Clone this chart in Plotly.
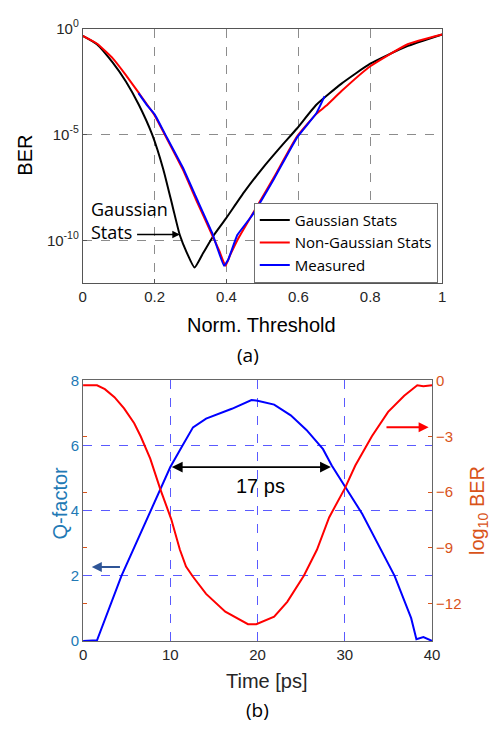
import plotly.graph_objects as go

# ---------------- Panel (a) data: BER vs normalized threshold (log10 BER) ----------------
gauss_x = [0, 0.04, 0.083, 0.12, 0.156, 0.193, 0.224, 0.25, 0.27, 0.29, 0.311, 0.335, 0.365,
           0.397, 0.45, 0.5, 0.55, 0.596, 0.65, 0.72, 0.8, 0.9, 1.0]
gauss_log = [-0.35, -0.75, -1.6, -2.5, -3.6, -5.0, -6.64, -8.4, -9.75, -10.6, -11.28, -10.6, -9.75,
             -9.0, -7.7, -6.6, -5.6, -4.72, -3.6, -2.6, -1.66, -0.85, -0.28]

nong_x = [0, 0.04, 0.083, 0.12, 0.156, 0.2, 0.228, 0.278, 0.315, 0.36, 0.38, 0.397, 0.41, 0.433,
          0.469, 0.487, 0.532, 0.596, 0.65, 0.677, 0.72, 0.8, 0.904, 1.0]
nong_log = [-0.35, -0.72, -1.4, -2.2, -3.04, -4.1, -5.0, -6.64, -8.07, -9.75, -10.5, -11.2, -10.7, -9.9,
            -8.85, -8.33, -7.02, -5.1, -4.03, -3.65, -2.95, -1.78, -0.74, -0.28]

meas_x = [0.155, 0.178, 0.2, 0.228, 0.278, 0.315, 0.36, 0.393, 0.405, 0.43, 0.47, 0.532, 0.596, 0.65, 0.673]
meas_log = [-3.05, -3.6, -4.05, -4.95, -6.55, -7.95, -9.65, -11.2, -10.9, -9.75, -8.85, -7.1, -5.15, -4.0, -3.19]

a_xticks = [0, 0.2, 0.4, 0.6, 0.8, 1]
a_xticklabels = ["0", "0.2", "0.4", "0.6", "0.8", "1"]
a_ytick_exps = [0, -5, -10]

# ---------------- Panel (b) data ----------------
time_q = [0, 1.6, 4.4, 10.0, 11.4, 12.6, 14.1, 17.05, 19.3, 20.0, 21.9, 23.8, 25.6, 27.5, 28.5,
          30.1, 32.0, 35.7, 37.6, 38.2, 39.0, 40.0]
qfactor = [0, 0.02, 2.0, 5.34, 6.0, 6.56, 6.83, 7.13, 7.4, 7.38, 7.26, 6.93, 6.48, 5.89, 5.39,
           4.69, 3.9, 2.0, 0.7, 0.05, 0.12, 0]

time_b = [0, 1.6, 2.5, 3.6, 4.7, 5.86, 6.6, 7.7, 8.84, 10.1, 11.1, 11.8, 12.6, 14.1, 16.3, 18.9,
          19.85, 21.9, 23.4, 25.3, 26.8, 28.2, 30.0, 31.2, 33.1, 34.96, 36.8, 38.3, 39.0, 40.0]
log_ber = [-0.26, -0.26, -0.47, -0.9, -1.5, -2.3, -3.0, -4.2, -5.83, -7.45, -9.1, -10.0, -10.55,
           -11.47, -12.43, -13.1, -13.1, -12.7, -11.9, -10.5, -9.1, -7.36, -5.8, -4.57, -3.0,
           -1.69, -0.82, -0.26, -0.31, -0.26]

b_xticks = [0, 10, 20, 30, 40]
b_qticks = [0, 2, 4, 6, 8]
b_berticks = [0, -3, -6, -9, -12]

# ---------------- Styles ----------------
AX_FONT = "Liberation Sans, Arial, sans-serif"
TXT_FONT = "Open Sans, Liberation Sans, sans-serif"
DARK = "#262626"
QBLUE = "#2279b5"
ORANGE = "#D95319"

fig = go.Figure()

fig.add_trace(go.Scatter(x=gauss_x, y=[10 ** v for v in gauss_log], mode="lines",
                         line=dict(color="black", width=2, shape="spline", smoothing=0.5),
                         name="Gaussian Stats", xaxis="x", yaxis="y"))
fig.add_trace(go.Scatter(x=nong_x, y=[10 ** v for v in nong_log], mode="lines",
                         line=dict(color="#FF0000", width=2, shape="spline", smoothing=0.4),
                         name="Non-Gaussian Stats", xaxis="x", yaxis="y"))
fig.add_trace(go.Scatter(x=meas_x, y=[10 ** v for v in meas_log], mode="lines",
                         line=dict(color="#0000FF", width=2, shape="spline", smoothing=0.3),
                         name="Measured", xaxis="x", yaxis="y"))

fig.add_trace(go.Scatter(x=time_q, y=qfactor, mode="lines", line=dict(color="#0000FF", width=2),
                         showlegend=False, xaxis="x2", yaxis="y2"))
fig.add_trace(go.Scatter(x=time_b, y=log_ber, mode="lines", line=dict(color="#FF0000", width=2),
                         showlegend=False, xaxis="x2", yaxis="y3"))

grid_a = dict(showgrid=True, gridcolor="#8c8c8c", griddash="dash", gridwidth=1)
grid_b = dict(showgrid=True, gridcolor="#5a5aff", griddash="dash", gridwidth=1)

fig.update_layout(
    width=497, height=732,
    margin=dict(l=0, r=0, t=0, b=0),
    paper_bgcolor="white", plot_bgcolor="white",
    showlegend=True,
    legend=dict(x=0.515, y=0.6189, xanchor="left", yanchor="bottom",
                bordercolor="#707070", borderwidth=1, bgcolor="white",
                font=dict(family=TXT_FONT, size=15, color="black"),
                tracegroupgap=0, itemwidth=30),
    xaxis=dict(domain=[0.1624, 0.9034], range=[0, 1], anchor="y",
               tickvals=a_xticks, ticktext=a_xticklabels,
               tickfont=dict(family=AX_FONT, size=15, color=DARK),
               ticks="inside", ticklen=4, tickcolor="#555",
               showline=True, linecolor="#555", linewidth=1, mirror=True,
               zeroline=False, **grid_a),
    yaxis=dict(domain=[0.6189, 0.9754], type="log", range=[-12, 0], anchor="x",
               tickvals=[10 ** e for e in a_ytick_exps],
               ticktext=["10<sup>%d</sup>" % e for e in a_ytick_exps],
               tickfont=dict(family=AX_FONT, size=15, color=DARK),
               ticks="inside", ticklen=4, tickcolor="#555",
               showline=True, linecolor="#555", linewidth=1, mirror=True,
               zeroline=False, **grid_a),
    xaxis2=dict(domain=[0.163, 0.8827], range=[0, 40], anchor="y2",
                tickvals=b_xticks,
                tickfont=dict(family=AX_FONT, size=15, color=DARK),
                ticks="", showline=True, linecolor="#666", linewidth=1, mirror=True,
                zeroline=False, **grid_b),
    yaxis2=dict(domain=[0.1165, 0.4818], range=[0, 8], anchor="x2",
                tickvals=b_qticks,
                tickfont=dict(family=AX_FONT, size=15, color=QBLUE),
                ticks="", showline=True, linecolor="#666", linewidth=1,
                zeroline=False, **grid_b),
    yaxis3=dict(range=[-14, 0], overlaying="y2", side="right", anchor="x2",
                tickvals=b_berticks,
                tickfont=dict(family=AX_FONT, size=15, color=ORANGE),
                ticks="inside", ticklen=4, tickcolor=ORANGE, mirror="ticks",
                showline=True, linecolor="#666", linewidth=1,
                showgrid=False, zeroline=False),
)


def paper_text(text, px, py, size, color, family, angle=0):
    return dict(text=text, x=px / 497, y=1 - py / 732, xref="paper", yref="paper",
                xanchor="center", yanchor="middle", showarrow=False, textangle=angle,
                font=dict(family=family, size=size, color=color))


ann = [
    paper_text("Norm. Threshold", 264, 322, 20, "black", AX_FONT),
    paper_text("BER", 22, 148, 20, "black", AX_FONT, -90),
    paper_text("(a)", 250, 353, 19, "black", TXT_FONT),
    paper_text("Time [ps]", 270, 688, 20, DARK, AX_FONT),
    paper_text("(b)", 260, 718, 19, "black", TXT_FONT),
    paper_text("Q-factor", 57, 505, 20, QBLUE, AX_FONT, -90),
    paper_text("log<sub>10</sub> BER", 486, 513, 20, ORANGE, AX_FONT, -90),
]

# panel (a) "Gaussian Stats" label + arrow
ann.append(dict(text="Gaussian<br>Stats", x=0.018, y=-9.07, xref="x", yref="y",
                xanchor="left", yanchor="middle", align="left", showarrow=False,
                font=dict(family=TXT_FONT, size=18, color="black")))
ann.append(dict(text="", x=0.27, y=-9.72, ax=0.147, ay=-9.72, xref="x", yref="y",
                axref="x", ayref="y", showarrow=True, arrowhead=2, arrowsize=1,
                arrowwidth=1.5, arrowcolor="black"))

# panel (b) annotations
ann.append(dict(text="", x=28.4, y=5.34, ax=10.0, ay=5.34, xref="x2", yref="y2",
                axref="x2", ayref="y2", showarrow=True, arrowhead=2, arrowside="end+start",
                arrowsize=1.2, arrowwidth=1.8, arrowcolor="black"))
ann.append(dict(text="17 ps", x=20.3, y=4.75, xref="x2", yref="y2", showarrow=False,
                xanchor="center", yanchor="middle",
                font=dict(family=AX_FONT, size=20, color="black")))
ann.append(dict(text="", x=1.0, y=2.27, ax=4.4, ay=2.27, xref="x2", yref="y2",
                axref="x2", ayref="y2", showarrow=True, arrowhead=2, arrowsize=1,
                arrowwidth=2, arrowcolor="#2F5597"))
ann.append(dict(text="", x=39.6, y=6.56, ax=34.6, ay=6.56, xref="x2", yref="y2",
                axref="x2", ayref="y2", showarrow=True, arrowhead=2, arrowsize=1,
                arrowwidth=2, arrowcolor="#FF0000"))

fig.update_layout(annotations=ann)

fig.write_html("out.html")
